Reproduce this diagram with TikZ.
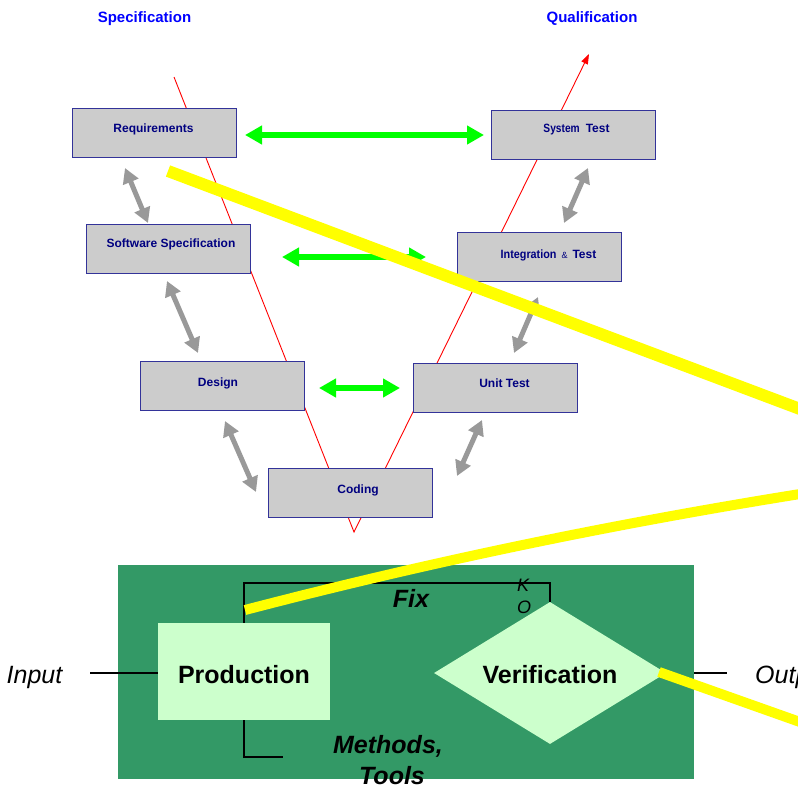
\documentclass[tikz,border=0pt]{standalone}
\usepackage{graphicx}
\usepackage{fontspec}
\setmainfont{Liberation Sans}
\usetikzlibrary{arrows.meta,shapes.geometric}

\definecolor{boxgray}{HTML}{CCCCCC}
\definecolor{boxedge}{HTML}{333399}
\definecolor{boxtext}{HTML}{000080}
\definecolor{linkgray}{HTML}{999999}
\definecolor{linkgreen}{HTML}{00FF00}
\definecolor{panelgreen}{HTML}{339966}
\definecolor{palegreen}{HTML}{CCFFCC}
\definecolor{marker}{HTML}{FFFF00}
\definecolor{phaseblue}{HTML}{0000FF}

% condensed bold word used inside some box labels
\newcommand{\narrowword}[2]{\scalebox{#1}[1]{#2}}

\begin{document}
\begin{tikzpicture}[x=1pt,y=-1pt,
  vbox/.style={draw=boxedge, line width=0.9pt, fill=boxgray,
    minimum width=164pt, minimum height=49pt, inner sep=0pt, anchor=north west},
  vlabel/.style={anchor=base, inner sep=0pt, text=boxtext,
    font=\fontsize{12}{14}\selectfont\bfseries},
  phase/.style={anchor=base, inner sep=0pt, text=phaseblue,
    font=\fontsize{15}{18}\selectfont\bfseries},
  trace/.style={draw=linkgray, line width=5pt,
    {Triangle[length=15pt,width=16pt]}-{Triangle[length=15pt,width=16pt]}},
  peer/.style={draw=linkgreen, line width=5.5pt,
    {Triangle[length=17pt,width=18pt]}-{Triangle[length=17pt,width=18pt]}},
  flow/.style={draw=black, line width=1.6pt},
  big/.style={inner sep=0pt, font=\fontsize{25}{31}\selectfont},
  hl/.style={draw=marker, line width=11pt},
]
\useasboundingbox (0,0) rectangle (798,787);

% phase headings
\node[phase] (spec) at (144.5,22) {Specification};
\node[phase] (qual) at (592,23) {Qualification};

% the V line
\coordinate (vtop) at (174,77);
\coordinate (vbot) at (354,532);
\coordinate (vend) at (589,54);
\draw[red, line width=0.9pt, -{Triangle[length=10pt,width=7pt]}]
  (vtop) -- (vbot) -- (vend);

% development and test boxes
\node[vbox] (req)  at (72,108)  {};
\node[vbox] (sys)  at (491,110) {};
\node[vbox] (sws)  at (86,224)  {};
\node[vbox] (intg) at (457,232) {};
\node[vbox] (des)  at (140,361) {};
\node[vbox] (unit) at (413,363) {};
\node[vbox] (cod)  at (268,468) {};

\node[vlabel] (reqt)  at (153.5,132.5) {Requirements};
\node[vlabel] (syst)  at (576.5,132)   {\narrowword{0.85}{System}\hspace{6pt}Test};
\node[vlabel] (swst)  at (171,247)     {Software Specification};
\node[vlabel] (intgt) at (548.5,258)   {\narrowword{0.9}{Integration}\hspace{5pt}{\mdseries\fontsize{9}{10}\selectfont\&}\hspace{5pt}Test};
\node[vlabel] (dest)  at (218,386)     {Design};
\node[vlabel] (unitt) at (504.5,387)   {Unit Test};
\node[vlabel] (codt)  at (358,493)     {Coding};

% horizontal links between levels
\coordinate (g1a) at (245,135);  \coordinate (g1b) at (484,135);
\coordinate (g2a) at (282,257);  \coordinate (g2b) at (426,257);
\coordinate (g3a) at (319,388);  \coordinate (g3b) at (400,388);
\draw[peer] (g1a) -- (g1b);
\draw[peer] (g2a) -- (g2b);
\draw[peer] (g3a) -- (g3b);

% vertical links along each branch
\coordinate (t1a) at (125,168);  \coordinate (t1b) at (148,223);
\coordinate (t2a) at (167,281);  \coordinate (t2b) at (198,353);
\coordinate (t3a) at (225,421);  \coordinate (t3b) at (256,492);
\coordinate (t4a) at (588,168);  \coordinate (t4b) at (564,223);
\coordinate (t5a) at (538,297);  \coordinate (t5b) at (514,353);
\coordinate (t6a) at (482,420);  \coordinate (t6b) at (457,476);
\draw[trace] (t1a) -- (t1b);
\draw[trace] (t2a) -- (t2b);
\draw[trace] (t3a) -- (t3b);
\draw[trace] (t4a) -- (t4b);
\draw[trace] (t5a) -- (t5b);
\draw[trace] (t6a) -- (t6b);

% production / verification panel
\node[fill=panelgreen, minimum width=576pt, minimum height=214pt,
      inner sep=0pt, anchor=north west] (panel) at (118,565) {};
\node[fill=palegreen, minimum width=172pt, minimum height=97pt, inner sep=0pt,
      text height=23pt, text depth=0pt,
      font=\fontsize{25}{31}\selectfont\bfseries] (prod) at (244,671.5) {Production};
\node[diamond, aspect=1.6, fill=palegreen, minimum width=232pt, minimum height=142pt,
      inner sep=0pt, text height=20pt, text depth=0pt,
      font=\fontsize{25}{31}\selectfont\bfseries] (ver) at (550,673) {Verification};

\coordinate (fixy) at (0,583);
\draw[flow] (prod.north) -- (prod.north |- fixy) -| (ver.north);
\node[big, anchor=base, font=\fontsize{25}{31}\selectfont\bfseries\itshape] (fix) at (411,607) {Fix};
\node[inner sep=0pt, anchor=base, font=\fontsize{18}{20}\selectfont\itshape] (ko1) at (523,591) {K};
\node[inner sep=0pt, anchor=base, font=\fontsize{18}{20}\selectfont\itshape] (ko2) at (524,613) {O};

\coordinate (meth) at (283,757);
\draw[flow] (prod.south) |- (meth);
\node[big, anchor=base, font=\fontsize{25}{31}\selectfont\bfseries\itshape]
  (methods) at (388,753) {Methods,};
\node[big, anchor=base, font=\fontsize{25}{31}\selectfont\bfseries\itshape]
  (tools) at (392,784) {Tools};

\coordinate (inend) at (90,673);
\draw[flow] (inend) -- (inend -| prod.west);
\node[big, anchor=base, font=\fontsize{25}{31}\selectfont\itshape] (inp) at (34.5,683) {Input};

\coordinate (outend) at (727,673);
\draw[flow] (outend -| panel.east) -- (outend);
\node[big, anchor=base west, font=\fontsize{25}{31}\selectfont\itshape] (outp) at (755,683) {Output};

% highlighter strokes
\coordinate (h1a) at (168,171);  \coordinate (h1b) at (800,409);
\coordinate (h2a) at (245,610);  \coordinate (h2b) at (800,494);
\coordinate (h3a) at (659,672);  \coordinate (h3b) at (800,722);
\draw[hl, line width=12pt] (h1a) -- (h1b);
\draw[hl, line width=10pt] (h2a) .. controls (429,562) and (613,524) .. (h2b);
\draw[hl, line width=10pt] (h3a) -- (h3b);
\end{tikzpicture}
\end{document}
